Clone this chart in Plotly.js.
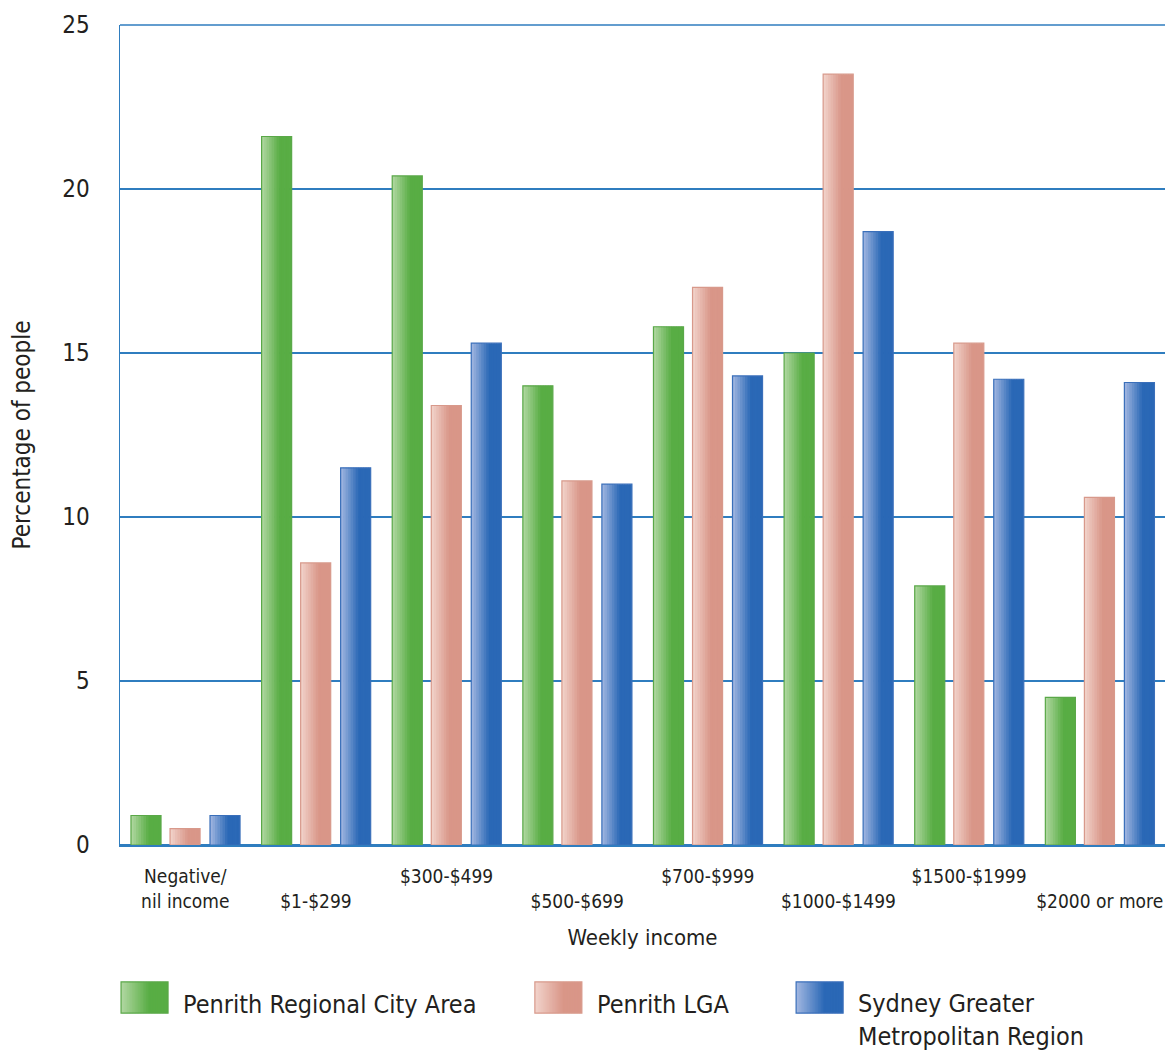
<!DOCTYPE html>
<html>
<head>
<meta charset="utf-8">
<script src="https://cdn.plot.ly/plotly-3.0.1.min.js"></script>
<style>html,body{margin:0;padding:0;background:#fff;}#chart{width:1176px;height:1056px;}</style>
</head>
<body>
<div id="chart"></div>
<script>
// ---- data ----
const categories = ["Negative/ nil income", "$1-$299", "$300-$499", "$500-$699", "$700-$999", "$1000-$1499", "$1500-$1999", "$2000 or more"];
const tickLabels = ["Negative/<br>nil income", " <br>$1-$299", "$300-$499", " <br>$500-$699", "$700-$999", " <br>$1000-$1499", "$1500-$1999", " <br>$2000 or more"];
const seriesNames = ["Penrith Regional City Area", "Penrith LGA", "Sydney Greater Metropolitan Region"];
const legendLabels = ["Penrith Regional City Area", "Penrith LGA", "Sydney Greater<br>Metropolitan Region"];
const penrithRegional = [0.9, 21.6, 20.4, 14.0, 15.8, 15.0, 7.9, 4.5];
const penrithLGA      = [0.5, 8.6, 13.4, 11.1, 17.0, 23.5, 15.3, 10.6];
const sydneyGMR       = [0.9, 11.5, 15.3, 11.0, 14.3, 18.7, 14.2, 14.1];
const seriesValues = [penrithRegional, penrithLGA, sydneyGMR];

// ---- styling ----
const FONT = '"DejaVu Sans Condensed", "Liberation Sans Narrow", "Roboto", sans-serif';
const TXT = '#231f20';
const GRID = '#2f7dbf';
const light = [[178,216,163],[242,212,204],[163,184,225]];
const dark  = [[88,173,68],[217,150,136],[42,104,182]];
const outline = ['#5aa848', '#d8998b', '#3a6fba'];
const barW = 0.23;
const offsets = [-0.416, -0.117, 0.189];
const STRIPS = 12;
const LSTRIPS = 30;

function mix(a, b, t) {
  return 'rgb(' + a.map((v, i) => Math.round(v + (b[i] - v) * t)).join(',') + ')';
}

const traces = [];
seriesValues.forEach((vals, s) => {
  for (let k = 0; k < STRIPS; k++) {
    const t = Math.min(1, (k + 0.5) / STRIPS / 0.6);
    traces.push({
      type: 'bar', x: categories, y: vals,
      offset: offsets[s] + k * barW / STRIPS,
      width: barW / STRIPS + (k < STRIPS - 1 ? 0.006 : 0),
      marker: {color: mix(light[s], dark[s], t), line: {width: 0}},
      hoverinfo: 'skip', showlegend: false
    });
  }
  traces.push({
    type: 'bar', x: categories, y: vals, name: seriesNames[s],
    offset: offsets[s], width: barW,
    marker: {color: 'rgba(0,0,0,0)', line: {color: outline[s], width: 1.2}},
    showlegend: false
  });
});

// custom legend (large cylinder-like swatches)
const legX = [0.001, 0.397, 0.647]; // paper coords for swatch left
const shapes = [];
const annotations = [];
const plotW = 1176 - 120 - 11;
seriesNames.forEach((n, s) => {
  const x0 = legX[s], x1 = legX[s] + 47 / plotW;
  for (let k = 0; k < LSTRIPS; k++) {
    const t = Math.min(1, (k + 0.5) / LSTRIPS / 0.6);
    shapes.push({type: 'rect', xref: 'paper', yref: 'paper',
      x0: x0 + (x1 - x0) * k / LSTRIPS, x1: x0 + (x1 - x0) * Math.min(k + 1.6, LSTRIPS) / LSTRIPS,
      y0: -0.205, y1: -0.167, fillcolor: mix(light[s], dark[s], t), line: {width: 0}, layer: 'above'});
  }
  shapes.push({type: 'rect', xref: 'paper', yref: 'paper', x0: x0, x1: x1,
    y0: -0.205, y1: -0.167, line: {color: outline[s], width: 1.2}, layer: 'above'});
  annotations.push({xref: 'paper', yref: 'paper', x: x1 + 13 / plotW, y: -0.194,
    xanchor: 'left', yanchor: s === 2 ? 'top' : 'middle', yshift: s === 2 ? 17 : 0,
    align: 'left', showarrow: false, text: legendLabels[s],
    font: {family: FONT, size: 25, color: TXT}});
});
// top border gridline (plot frame top)
shapes.push({type: 'line', xref: 'paper', yref: 'paper', x0: 0, x1: 1, y0: 1, y1: 1,
  line: {color: GRID, width: 1.5}, layer: 'below'});

const layout = {
  width: 1176, height: 1056,
  margin: {l: 120, r: 11, t: 25, b: 211},
  paper_bgcolor: '#ffffff', plot_bgcolor: '#ffffff',
  barmode: 'overlay',
  showlegend: false,
  font: {family: FONT, color: TXT},
  xaxis: {
    type: 'category', tickmode: 'array', tickvals: categories, ticktext: tickLabels,
    tickfont: {family: FONT, size: 19, color: TXT}, ticks: '', ticklabelstandoff: 14,
    showline: true, linecolor: GRID, linewidth: 1.5, showgrid: false,
    range: [-0.5, 7.5],
    title: {text: 'Weekly income', font: {family: FONT, size: 22, color: TXT}, standoff: 18}
  },
  yaxis: {
    range: [0, 25], dtick: 5, tick0: 0,
    tickfont: {family: FONT, size: 24, color: TXT}, ticks: '', ticklabelstandoff: 24,
    showgrid: true, gridcolor: GRID, gridwidth: 1.5,
    zeroline: true, zerolinecolor: GRID, zerolinewidth: 1.5,
    showline: true, linecolor: GRID, linewidth: 1.5,
    title: {text: 'Percentage of people', font: {family: FONT, size: 24, color: TXT}, standoff: 25}
  },
  shapes: shapes,
  annotations: annotations
};

Plotly.newPlot('chart', traces, layout, {displayModeBar: false, staticPlot: true});
</script>
</body>
</html>
